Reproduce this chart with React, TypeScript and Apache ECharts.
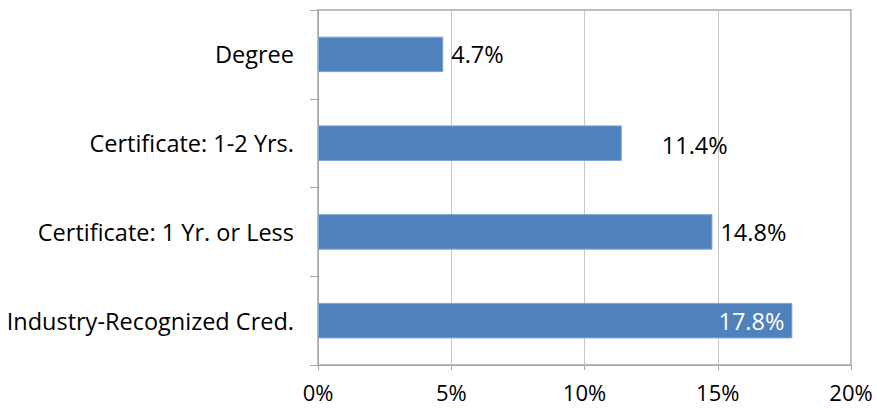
import React, { useEffect, useRef } from "react";
import * as echarts from "echarts";

const categories = [
  "Industry-Recognized Cred.",
  "Certificate: 1 Yr. or Less",
  "Certificate: 1-2 Yrs.",
  "Degree",
];
const values = [17.8, 14.8, 11.4, 4.7];
const xTicks = [0, 5, 10, 15, 20];

export default function App() {
  const ref = useRef<HTMLDivElement>(null);
  useEffect(() => {
    if (!ref.current) return;
    const chart = echarts.init(ref.current, null, { renderer: "svg" });
    const font = "Open Sans, Liberation Sans, sans-serif";
    const data = values.map((v, i) => {
      const item: any = { value: v };
      if (i === 0) {
        item.label = { position: "insideRight", color: "#ffffff", distance: 8 };
      } else if (categories[i] === "Certificate: 1-2 Yrs.") {
        item.label = { offset: [32, 2] };
      }
      return item;
    });
    chart.setOption({
      animation: false,
      grid: { left: 318, right: 26, top: 10, bottom: 43, containLabel: false, show: true, borderColor: "#a6a6a6", borderWidth: 1.5 },
      xAxis: {
        type: "value",
        min: 0,
        max: 20,
        interval: 5,
        axisLine: { show: true, lineStyle: { color: "#a6a6a6" } },
        axisTick: { show: true, length: 5, lineStyle: { color: "#a6a6a6" } },
        axisLabel: {
          formatter: (v: number) => (xTicks.includes(v) ? v + "%" : ""),
          color: "#000",
          fontFamily: font,
          fontSize: 22,
          margin: 16,
        },
        splitLine: { show: true, lineStyle: { color: "#c8c8c8" } },
      },
      yAxis: {
        type: "category",
        data: categories,
        axisLine: { show: true, lineStyle: { color: "#a6a6a6" } },
        axisTick: { show: true, length: 8, lineStyle: { color: "#a6a6a6" } },
        axisLabel: { color: "#000", fontFamily: font, fontSize: 23.5, margin: 24 },
        splitLine: { show: false },
      },
      series: [
        {
          type: "bar",
          data,
          barCategoryGap: "60%",
          itemStyle: { color: "#4f81bd", borderColor: "#7ea3d4", borderWidth: 1 },
          label: {
            show: true,
            position: "right",
            distance: 8,
            formatter: (p: any) => p.value.toFixed(1) + "%",
            color: "#000",
            fontFamily: font,
            fontSize: 23.5,
          },
        },
      ],
    });
    return () => chart.dispose();
  }, []);
  return (
    <div
      ref={ref}
      style={{ width: 877, height: 408, position: "absolute", left: 0, top: 0 }}
    />
  );
}
